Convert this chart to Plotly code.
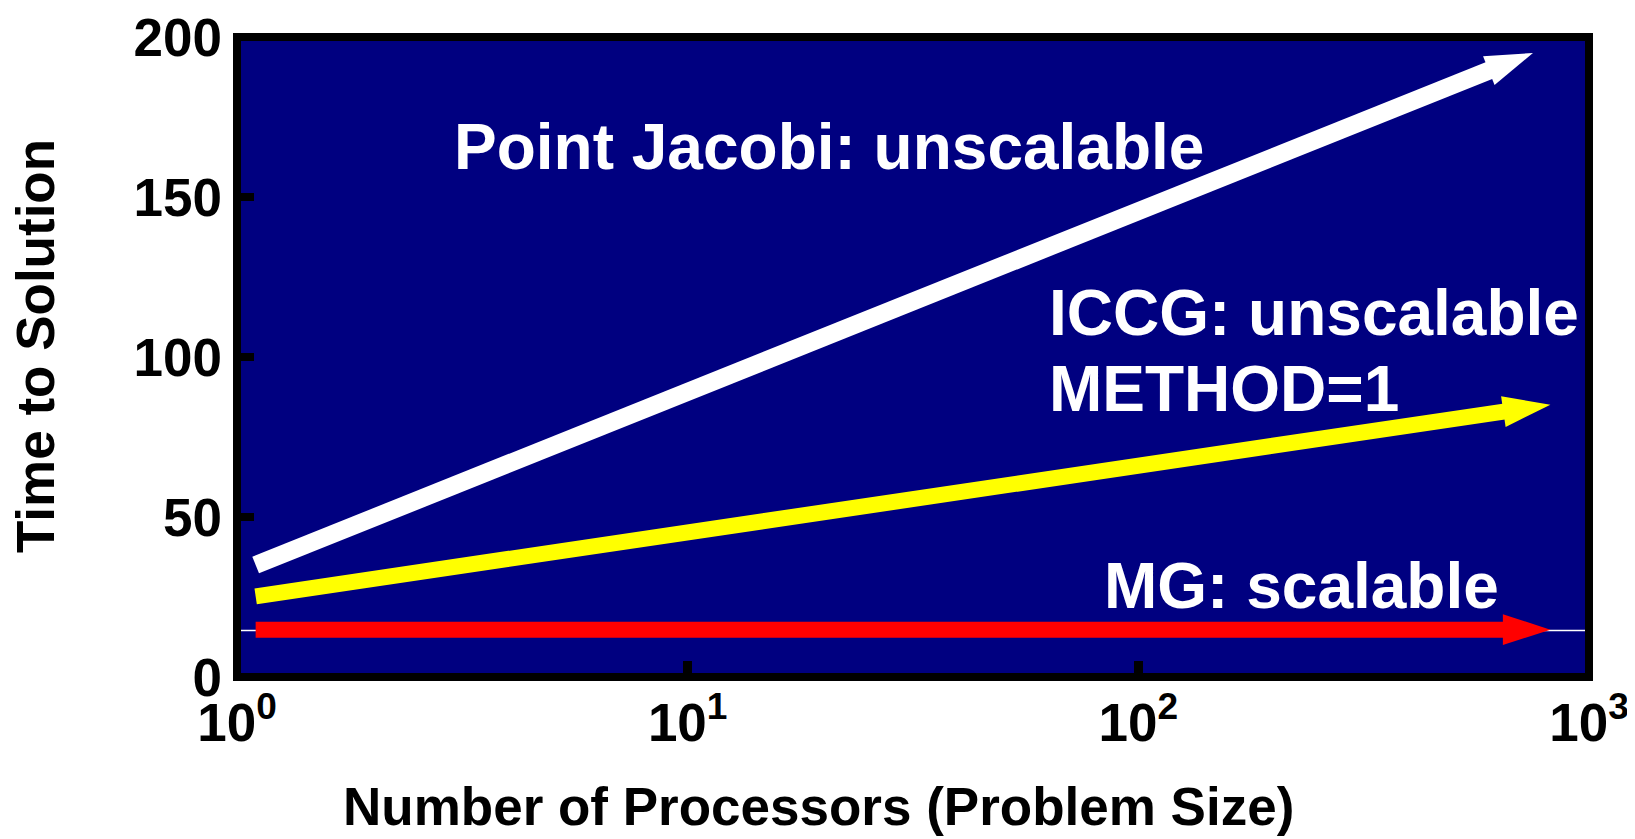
import plotly.graph_objects as go

# ---- data ----
jacobi_x = [1.10, 751]     # Point Jacobi arrow: start -> tip
jacobi_y = [35.0, 195.0]
iccg_x = [1.10, 821]       # ICCG arrow
iccg_y = [25.2, 85.1]
mg_x = [1.10, 821]         # MG arrow
mg_y = [14.8, 14.8]
ref_x = [1, 1000]          # thin reference line
ref_y = [14.5, 14.5]

x_tickvals = [1, 10, 100, 1000]
x_ticktext = ["10<sup>0</sup>", "10<sup>1</sup>", "10<sup>2</sup>", "10<sup>3</sup>"]
y_tickvals = [0, 50, 100, 150, 200]
y_ticktext = ["0", "50", "100", "150", "200"]

labels = ["Point Jacobi: unscalable", "ICCG: unscalable", "METHOD=1", "MG: scalable"]

FONT = "Liberation Sans, Arial, Helvetica, sans-serif"
NAVY = "#000080"

fig = go.Figure()

fig.add_trace(go.Scatter(x=ref_x, y=ref_y, mode="lines",
                         line=dict(color="white", width=1.5),
                         hoverinfo="skip", showlegend=False))


def arrow(xs, ys, color, width=16):
    return go.Scatter(
        x=xs, y=ys, mode="lines+markers",
        line=dict(color=color, width=width, backoff=30),
        marker=dict(symbol="arrow", size=[0, 50], color=color, opacity=1,
                    angleref="previous", line=dict(width=0, color=color)),
        opacity=1,
        hoverinfo="skip", showlegend=False)


fig.add_trace(arrow(jacobi_x, jacobi_y, "white", 18))
fig.add_trace(arrow(iccg_x, iccg_y, "yellow", 16))
fig.add_trace(arrow(mg_x, mg_y, "red", 16))

ann_font = dict(family=FONT, size=64, color="white", weight="bold")
annotations = [
    dict(text=labels[0], x=0.4382, y=0.8275, xanchor="center", yanchor="middle", font=ann_font),
    dict(text=labels[1], x=0.5990, y=0.5688, xanchor="left", yanchor="middle", font=ann_font),
    dict(text=labels[2], x=0.5990, y=0.4502, xanchor="left", yanchor="middle", font=ann_font),
    dict(text=labels[3], x=0.6395, y=0.1424, xanchor="left", yanchor="middle", font=ann_font),
]
for a in annotations:
    a.update(xref="paper", yref="paper", showarrow=False)

title_font = dict(family=FONT, size=53, color="black", weight="bold")
annotations.append(dict(text="Number of Processors (Problem Size)", xref="paper", yref="paper",
                        x=0.430, y=-0.2016, xanchor="center", yanchor="middle",
                        showarrow=False, font=title_font))
annotations.append(dict(text="Time to Solution", xref="paper", yref="paper",
                        x=-0.149, y=0.5164, xanchor="center", yanchor="middle",
                        textangle=-90, showarrow=False, font=title_font))

tick_font = dict(family=FONT, size=53, color="black", weight="bold")

fig.update_layout(
    width=1627, height=831,
    margin=dict(l=229, r=46, t=29, b=162, autoexpand=False),
    paper_bgcolor="white", plot_bgcolor=NAVY,
    annotations=annotations,
    shapes=[dict(type="rect", xref="paper", yref="paper", x0=0, x1=1, y0=0, y1=1,
                 line=dict(color="black", width=8), layer="above")],
    xaxis=dict(type="log", range=[0, 3], tickvals=x_tickvals, ticktext=x_ticktext,
               ticks="inside", ticklen=16, tickwidth=9, tickcolor="black",
               ticklabelstandoff=10, ticklabeloverflow="allow", automargin=False,
               showgrid=False, zeroline=False, showline=False,
               tickfont=tick_font, fixedrange=True),
    yaxis=dict(range=[0, 200], tickvals=y_tickvals, ticktext=y_ticktext,
               ticks="inside", ticklen=17, tickwidth=8, tickcolor="black",
               ticklabelstandoff=14, ticklabeloverflow="allow", automargin=False,
               showgrid=False, zeroline=False, showline=False,
               tickfont=tick_font, fixedrange=True),
)

fig.write_html("out.html", config={"displayModeBar": False})
